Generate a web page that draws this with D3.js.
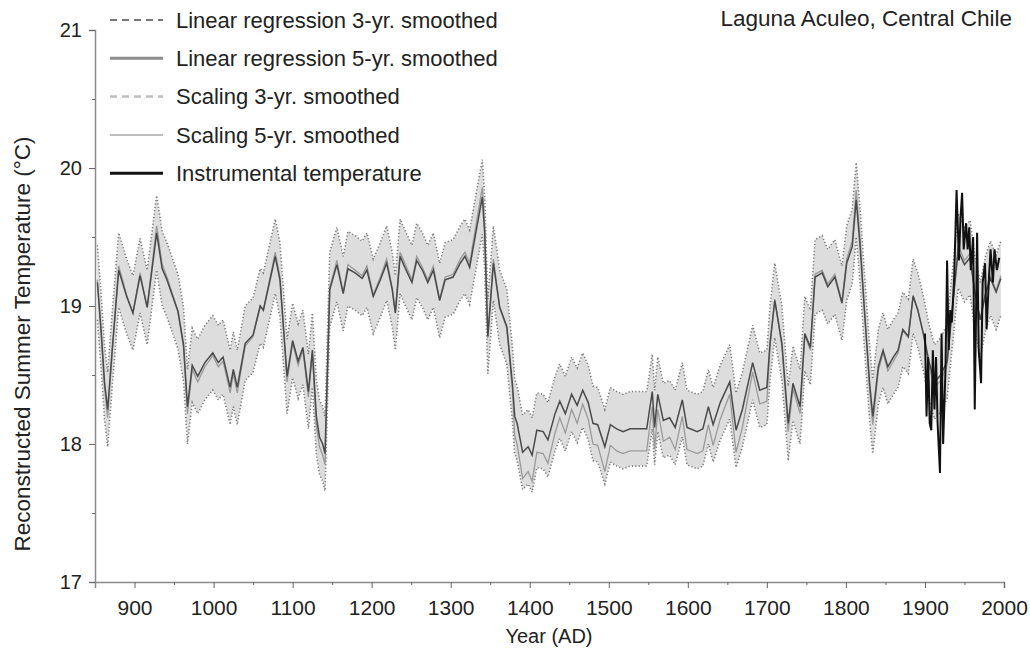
<!DOCTYPE html>
<html>
<head>
<meta charset="utf-8">
<script src="https://cdn.jsdelivr.net/npm/d3@7"></script>
<style>
  body { margin: 0; background: #fff; }
  text { font-family: "Liberation Sans", Arial, sans-serif; fill: #222; }
</style>
</head>
<body>
<div id="chart"></div>
<script>
// Reconstructed years (AD)
const years = [853, 858, 862, 866, 872, 880, 890, 898, 907, 916, 928, 935, 941, 955, 962, 967, 973, 980, 989, 999,
  1006, 1012, 1021, 1025, 1030, 1040, 1050, 1059, 1063, 1078, 1084, 1093, 1100, 1107, 1113, 1120, 1125, 1130, 1134, 1138,
  1141, 1147, 1156, 1164, 1170, 1179, 1188, 1194, 1202, 1211, 1219, 1226, 1230, 1236, 1242, 1251, 1257, 1265, 1271, 1278,
  1286, 1293, 1303, 1312, 1318, 1324, 1333, 1340, 1343, 1347, 1354, 1362, 1371, 1378, 1381, 1384, 1391, 1398, 1403, 1409,
  1417, 1423, 1432, 1438, 1445, 1453, 1460, 1467, 1474, 1480, 1486, 1495, 1502, 1510, 1518, 1527, 1536, 1548, 1555, 1558,
  1562, 1569, 1577, 1584, 1593, 1599, 1612, 1619, 1626, 1632, 1641, 1653, 1661, 1669, 1682, 1691, 1700, 1704, 1710, 1719,
  1727, 1733, 1742, 1748, 1755, 1761, 1770, 1777, 1786, 1795, 1801, 1808, 1813, 1818, 1824, 1830, 1834, 1841, 1847, 1853,
  1860, 1866, 1872, 1879, 1885, 1891, 1898, 1905, 1912, 1920, 1928, 1935, 1942, 1950, 1957, 1963, 1970, 1977, 1983, 1990,
  1996];

// Linear regression, 5-yr smoothed
const linReg5 = [19.17, 18.8, 18.45, 18.25, 18.7, 19.26, 19.07, 18.95, 19.22, 18.99, 19.53, 19.27, 19.19, 18.96, 18.72, 18.27, 18.57, 18.49, 18.59, 18.66,
  18.59, 18.63, 18.41, 18.54, 18.41, 18.73, 18.79, 19.0, 18.97, 19.36, 19.19, 18.49, 18.75, 18.6, 18.7, 18.38, 18.68, 18.2, 18.05, 18.0,
  17.93, 19.12, 19.3, 19.09, 19.27, 19.24, 19.2, 19.26, 19.07, 19.19, 19.31, 19.12, 18.95, 19.36, 19.28, 19.17, 19.33, 19.25, 19.17, 19.26,
  19.04, 19.19, 19.21, 19.31, 19.36, 19.28, 19.57, 19.79, 19.53, 18.78, 19.31, 18.99, 18.85, 18.44, 18.2, 18.15, 17.94, 17.98, 17.92, 18.1,
  18.09, 18.03, 18.22, 18.31, 18.22, 18.36, 18.28, 18.39, 18.3, 18.15, 18.14, 17.98, 18.14, 18.11, 18.09, 18.11, 18.11, 18.11, 18.38, 18.12,
  18.36, 18.17, 18.19, 18.12, 18.32, 18.12, 18.09, 18.11, 18.27, 18.14, 18.3, 18.45, 18.1, 18.25, 18.59, 18.39, 18.41, 18.73, 19.04, 18.73,
  18.15, 18.44, 18.27, 18.8, 18.7, 19.21, 19.24, 19.14, 19.21, 19.02, 19.31, 19.43, 19.77, 19.43, 18.92, 18.44, 18.2, 18.56, 18.68, 18.56,
  18.63, 18.68, 18.83, 18.78, 19.07, 18.97, 18.8, 18.6, 18.45, 18.5, 18.6, 19.0, 19.4, 19.3, 19.35, 19.1, 18.9, 19.1, 19.2, 19.1,
  19.2];

// Scaling, 5-yr smoothed
const scaling5 = [19.19, 18.79, 18.41, 18.19, 18.68, 19.29, 19.08, 18.95, 19.24, 18.99, 19.58, 19.3, 19.21, 18.96, 18.7, 18.22, 18.54, 18.45, 18.56, 18.64,
  18.56, 18.6, 18.37, 18.51, 18.37, 18.71, 18.78, 19.0, 18.97, 19.39, 19.21, 18.45, 18.73, 18.57, 18.68, 18.34, 18.66, 18.14, 17.98, 17.92,
  17.85, 19.13, 19.33, 19.1, 19.3, 19.26, 19.22, 19.29, 19.08, 19.21, 19.34, 19.13, 18.95, 19.39, 19.31, 19.19, 19.36, 19.27, 19.19, 19.29,
  19.05, 19.21, 19.23, 19.34, 19.39, 19.31, 19.62, 19.86, 19.58, 18.77, 19.34, 18.99, 18.84, 18.4, 18.06, 18.0, 17.75, 17.8, 17.73, 17.94,
  17.93, 17.86, 18.08, 18.19, 18.08, 18.25, 18.15, 18.29, 18.18, 18.0, 17.99, 17.8, 17.99, 17.95, 17.93, 17.95, 17.95, 17.95, 18.27, 17.96,
  18.25, 18.02, 18.05, 17.96, 18.2, 17.96, 17.93, 17.95, 18.14, 17.99, 18.18, 18.36, 17.94, 18.12, 18.52, 18.29, 18.31, 18.71, 19.05, 18.71,
  18.09, 18.4, 18.22, 18.79, 18.68, 19.23, 19.26, 19.16, 19.23, 19.03, 19.34, 19.47, 19.84, 19.47, 18.92, 18.4, 18.14, 18.53, 18.66, 18.53,
  18.6, 18.66, 18.82, 18.77, 19.08, 18.97, 18.79, 18.57, 18.41, 18.46, 18.57, 19.0, 19.44, 19.33, 19.38, 19.11, 18.9, 19.11, 19.22, 19.11,
  19.22];

// Half-width of the grey uncertainty envelope (°C)
const uncertainty = 0.27;

// Instrumental record
const instYears = [1900, 1902, 1904, 1906, 1908, 1910, 1912, 1914, 1916, 1919, 1921, 1923, 1926, 1928, 1930, 1932, 1934, 1937, 1940, 1943,
  1945, 1947, 1949, 1952, 1954, 1956, 1958, 1961, 1963, 1966, 1968, 1971, 1973, 1976, 1978, 1981, 1983, 1986, 1988, 1991, 1994];
const instTemp = [18.8, 18.2, 18.63, 18.15, 18.1, 18.68, 18.25, 18.63, 18.15, 17.79, 18.8, 18.0, 18.54, 19.33, 18.68, 18.97, 18.88, 19.21, 19.84, 19.33,
  19.64, 19.82, 19.41, 19.6, 19.41, 19.57, 19.26, 19.5, 18.25, 19.53, 18.68, 18.44, 19.17, 19.31, 18.83, 19.21, 19.41, 19.17, 19.41, 19.26, 19.35];

const xTicks = [900, 1000, 1100, 1200, 1300, 1400, 1500, 1600, 1700, 1800, 1900, 2000];
const yTicks = [17, 18, 19, 20, 21];

const legendLabels = [
  "Linear regression 3-yr. smoothed",
  "Linear regression 5-yr. smoothed",
  "Scaling 3-yr. smoothed",
  "Scaling 5-yr. smoothed",
  "Instrumental temperature"
];

const W = 1030, H = 655;
const svg = d3.select("#chart").append("svg")
  .attr("width", W)
  .attr("height", H);

const x = d3.scaleLinear().domain([850, 2000]).range([95, 1004]);
const y = d3.scaleLinear().domain([17, 21]).range([582, 30]);

const recon = years.map((yr, i) => ({ year: yr, lr: linReg5[i], sc: scaling5[i] }));
const inst = instYears.map((yr, i) => ({ year: yr, t: instTemp[i] }));

// Uncertainty band
svg.append("path")
  .datum(recon)
  .attr("fill", "#dddddd")
  .attr("d", d3.area()
    .x(d => x(d.year))
    .y0(d => y(d.lr - uncertainty))
    .y1(d => y(d.lr + uncertainty)));

["+", "-"].forEach(s => {
  svg.append("path")
    .datum(recon)
    .attr("fill", "none")
    .attr("stroke", "#7a7a7a")
    .attr("stroke-width", 1.6)
    .attr("stroke-dasharray", "1.2,2.2")
    .attr("d", d3.line()
      .x(d => x(d.year))
      .y(d => y(s === "+" ? d.lr + uncertainty : d.lr - uncertainty)));
});

// Scaling line
svg.append("path")
  .datum(recon)
  .attr("fill", "none")
  .attr("stroke", "#9a9a9a")
  .attr("stroke-width", 1.3)
  .attr("d", d3.line().x(d => x(d.year)).y(d => y(d.sc)));

// Linear regression line
svg.append("path")
  .datum(recon)
  .attr("fill", "none")
  .attr("stroke", "#4a4a4a")
  .attr("stroke-width", 1.5)
  .attr("d", d3.line().x(d => x(d.year)).y(d => y(d.lr)));

// Instrumental
svg.append("path")
  .datum(inst)
  .attr("fill", "none")
  .attr("stroke", "#111")
  .attr("stroke-width", 2)
  .attr("d", d3.line().x(d => x(d.year)).y(d => y(d.t)));

// Axes
svg.append("g")
  .attr("class", "x-axis")
  .attr("transform", `translate(0,${y(17)})`)
  .call(d3.axisBottom(x).tickValues(xTicks).tickFormat(d3.format("d")).tickSize(6).tickPadding(12));
svg.append("g")
  .attr("transform", `translate(0,${y(17)})`)
  .call(d3.axisBottom(x).tickValues(d3.range(950, 2000, 100)).tickFormat("").tickSize(3))
  .select(".domain").remove();

svg.append("g")
  .attr("class", "y-axis")
  .attr("transform", `translate(${x(850)},0)`)
  .call(d3.axisLeft(y).tickValues(yTicks).tickFormat(d3.format("d")).tickSize(6).tickPadding(7));
svg.append("g")
  .attr("transform", `translate(${x(850)},0)`)
  .call(d3.axisLeft(y).tickValues([17.5, 18.5, 19.5, 20.5]).tickFormat("").tickSize(3))
  .select(".domain").remove();

svg.selectAll(".domain").attr("stroke", "#8a8a8a").attr("stroke-width", 1.5);
svg.selectAll(".tick line").attr("stroke", "#666");
svg.selectAll(".tick text")
  .style("font-family", "Liberation Sans, Arial, sans-serif")
  .attr("fill", "#222");
svg.selectAll(".x-axis .tick text").style("font-size", "21px");
svg.selectAll(".y-axis .tick text").style("font-size", "20px");

// Axis titles
svg.append("text")
  .attr("x", 549)
  .attr("y", 643)
  .attr("text-anchor", "middle")
  .style("font-size", "20px")
  .text("Year (AD)");

svg.append("text")
  .attr("transform", `translate(30,344) rotate(-90)`)
  .attr("text-anchor", "middle")
  .style("font-size", "22.5px")
  .text("Reconstructed Summer Temperature (°C)");

svg.append("text")
  .attr("x", 1012)
  .attr("y", 26)
  .attr("text-anchor", "end")
  .style("font-size", "22.5px")
  .text("Laguna Aculeo, Central Chile");

// Legend
const legendStyles = [
  { stroke: "#777", width: 2, dash: "7,5" },
  { stroke: "#8c8c8c", width: 3, dash: null },
  { stroke: "#bdbdbd", width: 2.5, dash: "7,5" },
  { stroke: "#bdbdbd", width: 2, dash: null },
  { stroke: "#111", width: 3, dash: null }
];

const legend = svg.selectAll(".legend")
  .data(legendLabels)
  .enter()
  .append("g")
  .attr("class", "legend")
  .attr("transform", (d, i) => `translate(0,${20 + i * 38.3})`);

legend.append("line")
  .attr("x1", 110)
  .attr("x2", 163)
  .attr("stroke", (d, i) => legendStyles[i].stroke)
  .attr("stroke-width", (d, i) => legendStyles[i].width)
  .attr("stroke-dasharray", (d, i) => legendStyles[i].dash);

legend.append("text")
  .attr("x", 176)
  .attr("dy", "0.35em")
  .style("font-size", "22px")
  .text(d => d);
</script>
</body>
</html>
